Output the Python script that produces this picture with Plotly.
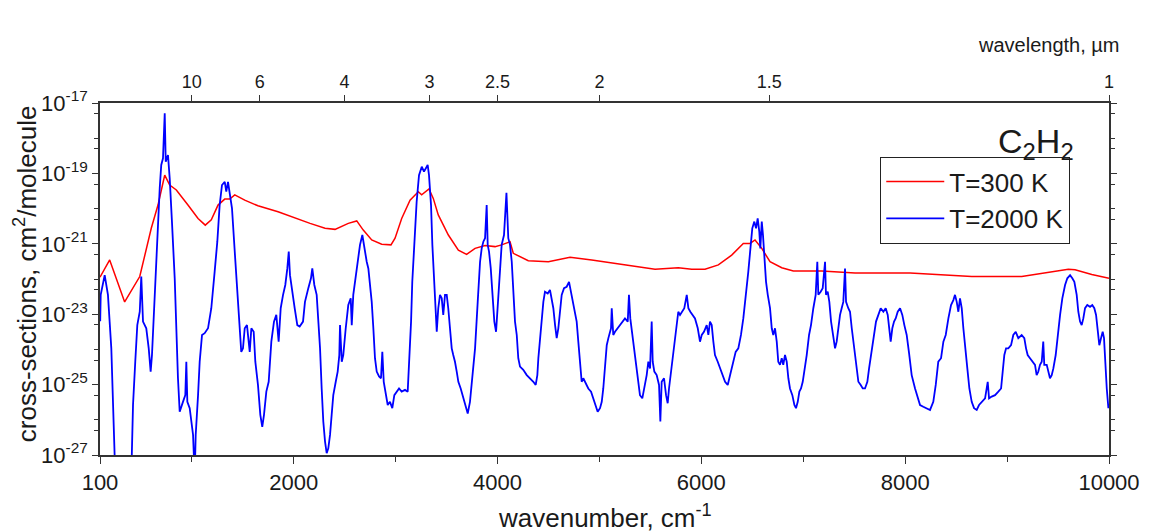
import plotly.graph_objects as go

# ---- data (wavenumber in cm^-1, log10 of cross-section in cm^2/molecule) ----
red_x = [100, 195, 342, 490, 603, 669, 717, 735, 784, 849, 963, 1062, 1133, 1192, 1258, 1324,
         1373, 1422, 1520, 1650, 1847, 2043, 2161, 2308, 2406, 2536, 2619, 2683, 2766, 2864,
         2955, 2995, 3060, 3142, 3223, 3256, 3328, 3370, 3419, 3518, 3616, 3697, 3780, 3878,
         3976, 4041, 4123, 4155, 4302, 4499, 4712, 4925, 5153, 5382, 5546, 5774, 5906, 6036,
         6167, 6298, 6412, 6478, 6527, 6593, 6674, 6789, 6903, 7181, 7508, 8048, 8653, 9144,
         9601, 9667, 9831, 10000]
red_logy = [-21.95, -21.46, -22.65, -21.93, -20.56, -19.90, -19.28, -19.05, -19.33, -19.47,
            -19.90, -20.28, -20.47, -20.32, -19.90, -19.73, -19.73, -19.61, -19.76, -19.92,
            -20.09, -20.30, -20.42, -20.56, -20.59, -20.42, -20.35, -20.61, -20.89, -21.01,
            -21.03, -20.84, -20.28, -19.76, -19.52, -19.61, -19.44, -19.71, -20.18, -20.75,
            -21.18, -21.30, -21.13, -21.05, -21.08, -21.03, -20.94, -21.27, -21.48, -21.51,
            -21.38, -21.46, -21.55, -21.65, -21.72, -21.68, -21.72, -21.72, -21.60, -21.32,
            -20.99, -20.99, -20.89, -21.13, -21.51, -21.68, -21.77, -21.77, -21.83, -21.83,
            -21.93, -21.93, -21.72, -21.74, -21.87, -21.98]

blue_x = [102, 107, 146, 178, 211, 237, 250, 407, 424, 446, 466, 490, 505, 522, 554, 578, 597,
          610, 637, 662, 686, 701, 718, 735, 745, 767, 784, 806, 833, 865, 882, 914, 937, 947,
          957, 980, 1013, 1029, 1039, 1062, 1078, 1101, 1127, 1160, 1192, 1225, 1251, 1274,
          1297, 1324, 1339, 1356, 1373, 1395, 1422, 1447, 1471, 1486, 1503, 1520, 1542, 1569,
          1585, 1608, 1624, 1650, 1673, 1692, 1709, 1732, 1755, 1781, 1807, 1830, 1853, 1873,
          1896, 1918, 1938, 1952, 1964, 1984, 2010, 2036, 2059, 2092,
          2111, 2144, 2170, 2183, 2203, 2226, 2242, 2259, 2275, 2291, 2308, 2324, 2340, 2357,
          2373, 2389, 2413, 2432, 2448, 2455, 2472, 2487, 2511, 2536, 2560, 2570, 2585, 2602,
          2628, 2651, 2674, 2693, 2717, 2733, 2749, 2766, 2782, 2798, 2815, 2838, 2857, 2870,
          2884, 2903, 2923, 2945, 2968, 2988, 3011, 3034, 3060, 3093, 3119, 3135, 3152, 3164,
          3184, 3207, 3230, 3257, 3279, 3296, 3315, 3328, 3348, 3361, 3380, 3394, 3404, 3419,
          3436, 3453, 3468, 3485, 3502, 3517, 3534, 3551, 3566, 3583, 3600, 3616, 3639, 3665,
          3688, 3708, 3730, 3753, 3780, 3806, 3829, 3845, 3861, 3878, 3894, 3904, 3917, 3934,
          3949, 3969, 3986, 3998, 4008, 4025, 4041, 4064, 4088, 4106, 4123, 4140, 4155, 4172,
          4189, 4204, 4221, 4253, 4287, 4319, 4352, 4375, 4391, 4401, 4417, 4434, 4450, 4466,
          4493, 4515, 4532, 4548, 4565, 4581, 4597, 4614, 4630, 4653, 4679, 4702, 4722, 4744,
          4761, 4777, 4793, 4810, 4826, 4842, 4859, 4875, 4891, 4918, 4940, 4964, 4983, 5006,
          5023, 5038, 5055, 5072, 5088, 5114, 5121, 5136, 5153, 5180, 5202, 5225, 5251, 5278,
          5290, 5303, 5323, 5343, 5366, 5382, 5398, 5421, 5441, 5464, 5480, 5497, 5513, 5523,
          5539, 5562, 5585, 5598, 5611, 5634, 5654, 5670, 5683, 5703, 5725, 5742, 5759, 5774,
          5791, 5808, 5833, 5857, 5873, 5892, 5912, 5938, 5965, 5987, 6004, 6026, 6053, 6069,
          6085, 6102, 6118, 6134, 6161, 6183, 6206, 6233, 6259, 6275, 6291, 6314, 6337, 6363,
          6389, 6412, 6436, 6461, 6485, 6500, 6520, 6537, 6553, 6569, 6579, 6593, 6605, 6618,
          6635, 6652, 6674, 6691, 6706, 6723, 6740, 6755, 6772, 6789, 6804, 6821, 6838, 6854,
          6870, 6893, 6913, 6929, 6946, 6962, 6978, 6995, 7011, 7034, 7057, 7076, 7099, 7122,
          7138, 7148, 7171, 7191, 7214, 7223, 7240, 7256, 7273, 7295, 7312, 7328, 7344, 7361,
          7377, 7393, 7410, 7420, 7442, 7459, 7476, 7491, 7508, 7525, 7541, 7564, 7584, 7606,
          7629, 7646, 7672, 7695, 7714, 7737, 7760, 7786, 7809, 7829, 7842, 7858, 7874, 7891,
          7907, 7927, 7950, 7972, 7992, 8015, 8038, 8064, 8097, 8123, 8146, 8178, 8211, 8244,
          8276, 8300, 8325, 8352, 8375, 8398, 8424, 8450, 8473, 8489, 8506, 8522, 8538, 8555,
          8571, 8587, 8610, 8630, 8653, 8676, 8702, 8725, 8751, 8784, 8810, 8823, 8849, 8882,
          8914, 8941, 8957, 8973, 8990, 9012, 9039, 9061, 9085, 9110, 9143, 9169, 9186, 9202,
          9225, 9248, 9274, 9290, 9306, 9323, 9340, 9355, 9365, 9389, 9405, 9421, 9438, 9454,
          9477, 9497, 9520, 9542, 9569, 9591, 9618, 9640, 9660, 9683, 9699, 9716, 9732, 9748,
          9765, 9787, 9814, 9836, 9856, 9873, 9890, 9905, 9922, 9938, 9951, 9961, 9978, 9994]
blue_logy = [-23.2, -22.45, -21.89, -22.45, -23.97, -26.24, -27.6, -27.6, -25.58, -24.35, -23.31,
             -22.93, -21.93, -23.21, -23.40, -23.97, -24.63, -24.16, -22.45, -20.56, -19.42,
             -18.76, -18.57, -17.29, -18.67, -18.48, -19.14, -20.37, -21.98, -24.82, -25.77,
             -25.49, -25.30, -24.35, -25.49, -25.67, -26.43, -27.6, -26.43, -25.30, -24.35,
             -23.59, -23.54, -23.40, -22.83, -21.79, -20.94, -19.90, -19.33, -19.24, -19.52,
             -19.24, -19.52, -19.99, -21.22, -22.45, -23.59, -24.07, -23.97, -23.40, -23.31,
             -24.07, -23.40, -23.50, -24.35, -25.01, -25.86, -26.20, -25.86, -25.20, -24.92,
             -23.78, -23.21, -23.02, -23.78, -22.83, -22.45, -22.17, -21.70, -21.22, -21.89,
             -22.36, -22.83, -23.31, -23.35, -23.21,
             -22.65, -22.26, -21.98, -21.70, -22.17, -22.45, -23.21, -23.97, -25.11, -26.05,
             -26.62, -26.95, -26.81, -26.43, -25.86, -25.30, -24.92, -24.63, -24.16, -23.31,
             -24.35, -24.16, -23.40, -22.74, -22.55, -23.31, -22.45, -22.08, -21.51, -21.03,
             -20.75, -21.13, -21.51, -21.70, -22.17, -22.65, -23.40, -24.25, -24.63, -24.77,
             -24.82, -24.07, -24.92, -25.20, -25.58, -25.49, -25.67, -25.30, -25.20, -25.11,
             -25.20, -25.15, -25.20, -24.35, -23.21, -22.08, -20.94, -19.80, -19.05, -18.81,
             -18.95, -18.86, -18.76, -19.05, -19.90, -21.03, -22.26, -23.21, -23.50, -22.83,
             -22.45, -22.55, -23.02, -22.45, -22.45, -22.83, -23.40, -23.97, -24.16, -24.35,
             -24.63, -24.92, -25.11, -25.39, -25.58, -25.82, -25.49, -24.82, -23.97, -22.65,
             -21.51, -21.13, -20.94, -20.84, -19.90, -21.03, -21.22, -21.70, -22.45, -23.21,
             -23.50, -22.93, -22.45, -21.51, -21.03, -20.75, -19.55, -20.84, -21.03, -21.51,
             -22.45, -23.21, -23.59, -24.25, -24.49, -24.58, -24.73, -24.82, -24.92, -25.01,
             -24.73, -24.25, -23.68, -23.21, -22.65, -22.36, -22.41, -22.31, -22.55, -22.83,
             -23.31, -23.68, -23.40, -22.83, -22.45, -22.26, -22.22, -22.08, -22.36, -22.74,
             -22.93, -23.21, -23.78, -24.35, -24.92, -24.82, -24.92, -25.01, -25.11, -25.20,
             -25.39, -25.58, -25.77, -25.67, -25.49, -25.11, -24.35, -23.88, -23.68, -23.40,
             -22.83, -23.59, -23.50, -23.40, -23.31, -23.21, -23.12, -23.21, -22.45, -23.12,
             -23.59, -23.97, -24.54, -25.01, -25.30, -25.39, -25.11, -24.73, -24.35, -24.54,
             -23.21, -24.35, -24.63, -24.73, -25.01, -26.05, -24.92, -24.82, -25.30, -25.53,
             -25.11, -24.63, -24.07, -23.68, -23.40, -22.93, -23.02, -22.93, -22.83, -22.45,
             -22.83, -22.93, -23.02, -23.12, -23.40, -23.78, -23.59, -23.50, -23.31, -23.59,
             -23.21, -23.31, -23.78, -24.16, -24.35, -24.54, -24.73, -24.92, -25.01, -24.82,
             -24.63, -24.35, -24.07, -23.97, -23.59, -23.12, -22.55, -21.79, -21.03, -20.56,
             -20.37, -20.56, -20.28, -20.66, -21.13, -20.37, -20.75, -21.32, -22.08, -22.45,
             -22.83, -23.40, -23.59, -23.40, -23.78, -24.35, -24.44, -24.25, -24.44, -24.16,
             -24.35, -24.82, -25.11, -25.30, -25.58, -25.67, -25.49, -25.20, -25.11, -24.92,
             -24.63, -24.16, -23.59, -23.31, -22.83, -22.45, -21.51, -22.45, -22.36, -22.26,
             -21.51, -22.45, -22.36, -22.65, -23.21, -23.59, -23.97, -23.78, -23.31, -23.02,
             -22.83, -22.65, -21.70, -22.65, -22.83, -22.93, -23.40, -23.78, -24.16, -24.54,
             -24.92, -25.01, -25.11, -25.11, -24.92, -24.54, -23.97, -23.59, -23.21, -23.02,
             -22.83, -22.93, -22.83, -23.02, -23.40, -23.78, -23.40, -23.21, -23.12, -22.93,
             -22.83, -23.02, -23.31, -23.59, -24.10, -24.73, -25.11, -25.39, -25.58, -25.63,
             -25.67, -25.72, -25.49, -25.01, -24.35, -24.25, -23.78, -23.59, -23.12, -22.74,
             -22.60, -22.45, -22.65, -22.93, -22.55, -22.83, -23.40, -23.97, -24.54, -25.11,
             -25.49, -25.67, -25.72, -25.58, -25.49, -25.39, -24.92, -25.39, -25.34, -25.30,
             -25.20, -25.11, -24.63, -24.16, -23.97, -23.97, -23.88, -23.59, -23.50, -23.68,
             -23.59, -23.68, -23.97, -24.16, -24.25, -24.35, -24.44, -24.73, -24.63, -24.44,
             -24.35, -23.78, -24.44, -24.44, -24.63, -24.82, -24.73, -24.54, -24.16, -23.59,
             -23.02, -22.55, -22.17, -21.98, -21.89, -21.98, -22.08, -22.45, -22.93, -23.21,
             -23.31, -23.12, -22.83, -22.74, -22.79, -22.74, -22.83, -23.02, -23.40, -23.88,
             -23.68, -23.50, -23.68, -24.25, -25.11, -25.67]

x_tick_vals = [100, 2000, 4000, 6000, 8000, 10000]
x_tick_text = ["100", "2000", "4000", "6000", "8000", "10000"]
x_minor_vals = [1000, 3000, 5000, 7000, 9000]
y_label_exponents = [-17, -19, -21, -23, -25, -27]
y_other_exponents = [-18, -20, -22, -24, -26]
wavelength_um = [10, 6, 4, 3, 2.5, 2, 1.5, 1]
wavelength_labels = ["10", "6", "4", "3", "2.5", "2", "1.5", "1"]

FONT = "Liberation Sans, Arial, sans-serif"
TXT = "#1a1a1a"
AX = "#333333"

red_y = [10 ** v for v in red_logy]
blue_y = [10 ** v for v in blue_logy]

fig = go.Figure()
fig.add_trace(go.Scatter(x=red_x, y=red_y, mode="lines", name="T=300 K",
                         legendgroup="a", line=dict(color="#ff0000", width=1.5)))
fig.add_trace(go.Scatter(x=blue_x, y=blue_y, mode="lines", name="T=2000 K",
                         legendgroup="b", line=dict(color="#0000ff", width=1.8)))
# invisible trace so that the top (wavelength) axis is drawn
fig.add_trace(go.Scatter(x=[100, 10000], y=[1e-30, 1e-30], xaxis="x2", yaxis="y",
                         mode="lines", line=dict(width=0), showlegend=False, hoverinfo="skip"))

y_tickvals = [10.0 ** e for e in y_label_exponents]
y_ticktext = ["10<sup>%d</sup>" % e for e in y_label_exponents]
y_minor = [10.0 ** e for e in y_other_exponents] + [5 * 10.0 ** e for e in range(-18, -28, -1)]

fig.update_layout(
    width=1134, height=531,
    margin=dict(l=92, r=33, t=95, b=84),
    paper_bgcolor="white", plot_bgcolor="white",
    font=dict(family=FONT, color=TXT),
    showlegend=True,
    legend=dict(x=0.773, y=0.847, xanchor="left", yanchor="top",
                bordercolor="#222", borderwidth=1.3, bgcolor="white", itemwidth=58,
                font=dict(size=26, family=FONT, color=TXT), tracegroupgap=0),
    xaxis=dict(range=[100, 10000], tickmode="array", tickvals=x_tick_vals, ticktext=x_tick_text,
               automargin=False,
               ticks="outside", ticklen=7, tickwidth=1.3, tickcolor=AX,
               showline=True, linecolor=AX, linewidth=1.5, showgrid=False, zeroline=False,
               tickfont=dict(size=22, family=FONT, color=TXT),
               minor=dict(tickmode="array", tickvals=x_minor_vals, ticks="outside",
                          ticklen=5, tickcolor=AX, showgrid=False)),
    xaxis2=dict(range=[100, 10000], overlaying="x", side="top", anchor="y", automargin=False,
                tickmode="array", tickvals=[1e4 / w for w in wavelength_um], ticktext=wavelength_labels,
                ticks="outside", ticklen=6, tickwidth=1.3, tickcolor=AX,
                showline=True, linecolor=AX, linewidth=1.5, showgrid=False, zeroline=False,
                tickfont=dict(size=18, family=FONT, color=TXT)),
    yaxis=dict(type="log", range=[-27, -17], tickmode="array", tickvals=y_tickvals, ticktext=y_ticktext,
               automargin=False,
               ticks="outside", ticklen=6, tickwidth=1.3, tickcolor=AX,
               showline=True, linecolor=AX, linewidth=1.5, mirror="ticks",
               showgrid=False, zeroline=False,
               tickfont=dict(size=22, family=FONT, color=TXT),
               minor=dict(tickmode="array", tickvals=y_minor, ticks="outside", ticklen=4,
                          tickcolor=AX, showgrid=False)),
)

# axis titles placed as annotations to match the reference positions
fig.add_annotation(text="wavenumber, cm<sup>-1</sup>", xref="paper", yref="paper",
                   x=0.5, y=-0.176, xanchor="center", yanchor="middle", showarrow=False,
                   font=dict(size=26, family=FONT, color=TXT))
fig.add_annotation(text="cross-sections, cm<sup>2</sup>/molecule", xref="paper", yref="paper",
                   x=-0.0735, y=0.516, xanchor="center", yanchor="middle", showarrow=False,
                   textangle=-90, font=dict(size=26, family=FONT, color=TXT))
fig.add_annotation(text="C<sub>2</sub>H<sub>2</sub>", xref="paper", yref="paper",
                   x=0.967, y=0.886, xanchor="right", yanchor="middle", showarrow=False,
                   font=dict(size=34, family=FONT, color=TXT))
fig.add_annotation(text="wavelength, \u00b5m", xref="paper", yref="paper",
                   x=1.012, y=1.165, xanchor="right", yanchor="middle", showarrow=False,
                   font=dict(size=20, family=FONT, color=TXT))

fig.write_html("out.html")
